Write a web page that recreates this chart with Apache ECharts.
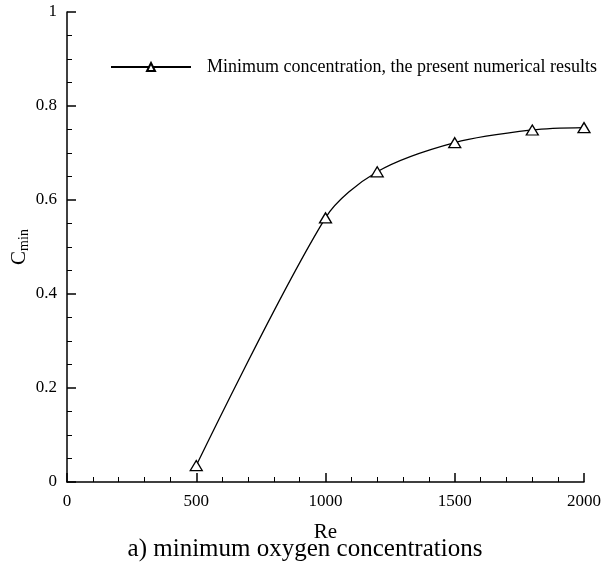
<!DOCTYPE html>
<html><head><meta charset="utf-8">
<script src="https://cdn.jsdelivr.net/npm/echarts@6/dist/echarts.min.js"></script>
<style>html,body{margin:0;padding:0;background:#fff}#c{width:605px;height:564px}</style>
</head><body><div id="c"></div>
<script>
var reValues = [500, 1000, 1200, 1500, 1800, 2000];
var cminValues = [0.035, 0.562, 0.660, 0.722, 0.749, 0.754];
var seriesName = 'Minimum concentration, the present numerical results';
var xTicks = [0, 500, 1000, 1500, 2000];
var yTicks = [0, 0.2, 0.4, 0.6, 0.8, 1];
var F = '"Liberation Serif", "Times New Roman", serif';
var chart = echarts.init(document.getElementById('c'));
chart.setOption({
  animation: false,
  backgroundColor: '#fff',
  grid: {left: 67, right: 21, top: 12, bottom: 82, containLabel: false, outerBoundsMode: 'none'},
  title: {text: 'a) minimum oxygen concentrations', left: 300, textAlign: 'center', top: 532,
    textStyle: {fontFamily: F, fontSize: 25, fontWeight: 'normal', color: '#000'}},
  legend: {left: 105, top: 53, itemWidth: 80, itemHeight: 10, itemGap: 10,
    textStyle: {fontFamily: F, fontSize: 18, color: '#000', padding: [0, 0, 0, 11]}, data: [seriesName]},
  xAxis: {type: 'value', min: 0, max: 2000, interval: 500,
    name: 'Re', nameLocation: 'middle', nameGap: 40, nameMoveOverlap: false,
    nameTextStyle: {fontFamily: F, fontSize: 21, color: '#000'},
    axisLine: {lineStyle: {color: '#000', width: 1.5}},
    axisTick: {inside: true, length: 9, lineStyle: {color: '#000', width: 1.5}},
    minorTick: {show: true, splitNumber: 5, length: 5, lineStyle: {color: '#000', width: 1}},
    splitLine: {show: false},
    axisLabel: {fontFamily: F, fontSize: 17, color: '#000', margin: 11,
      formatter: function (v) { return String(v); }}},
  yAxis: {type: 'value', min: 0, max: 1, interval: 0.2,
    name: 'C{sub|min}', nameLocation: 'middle', nameGap: 36, nameRotate: 90, nameMoveOverlap: false,
    nameTextStyle: {fontFamily: F, fontSize: 21, color: '#000',
      rich: {sub: {fontFamily: F, fontSize: 14, color: '#000', verticalAlign: 'bottom', padding: [10, 0, 0, 0]}}},
    axisLine: {show: true, lineStyle: {color: '#000', width: 1.5}},
    axisTick: {show: true, inside: true, length: 9, lineStyle: {color: '#000', width: 1.5}},
    minorTick: {show: true, splitNumber: 4, length: 5, lineStyle: {color: '#000', width: 1}},
    splitLine: {show: false},
    axisLabel: {fontFamily: F, fontSize: 17, color: '#000', margin: 10,
      formatter: function (v) { return String(v); }}},
  series: [{
    name: seriesName, type: 'line', smooth: 0.3,
    data: reValues.map(function (x, i) { return [x, cminValues[i]]; }),
    symbol: 'triangle', symbolSize: [12, 10], showAllSymbol: true,
    lineStyle: {color: '#000', width: 1.3},
    itemStyle: {color: '#fff', borderColor: '#000', borderWidth: 1.3}
  }]
});
</script></body></html>
